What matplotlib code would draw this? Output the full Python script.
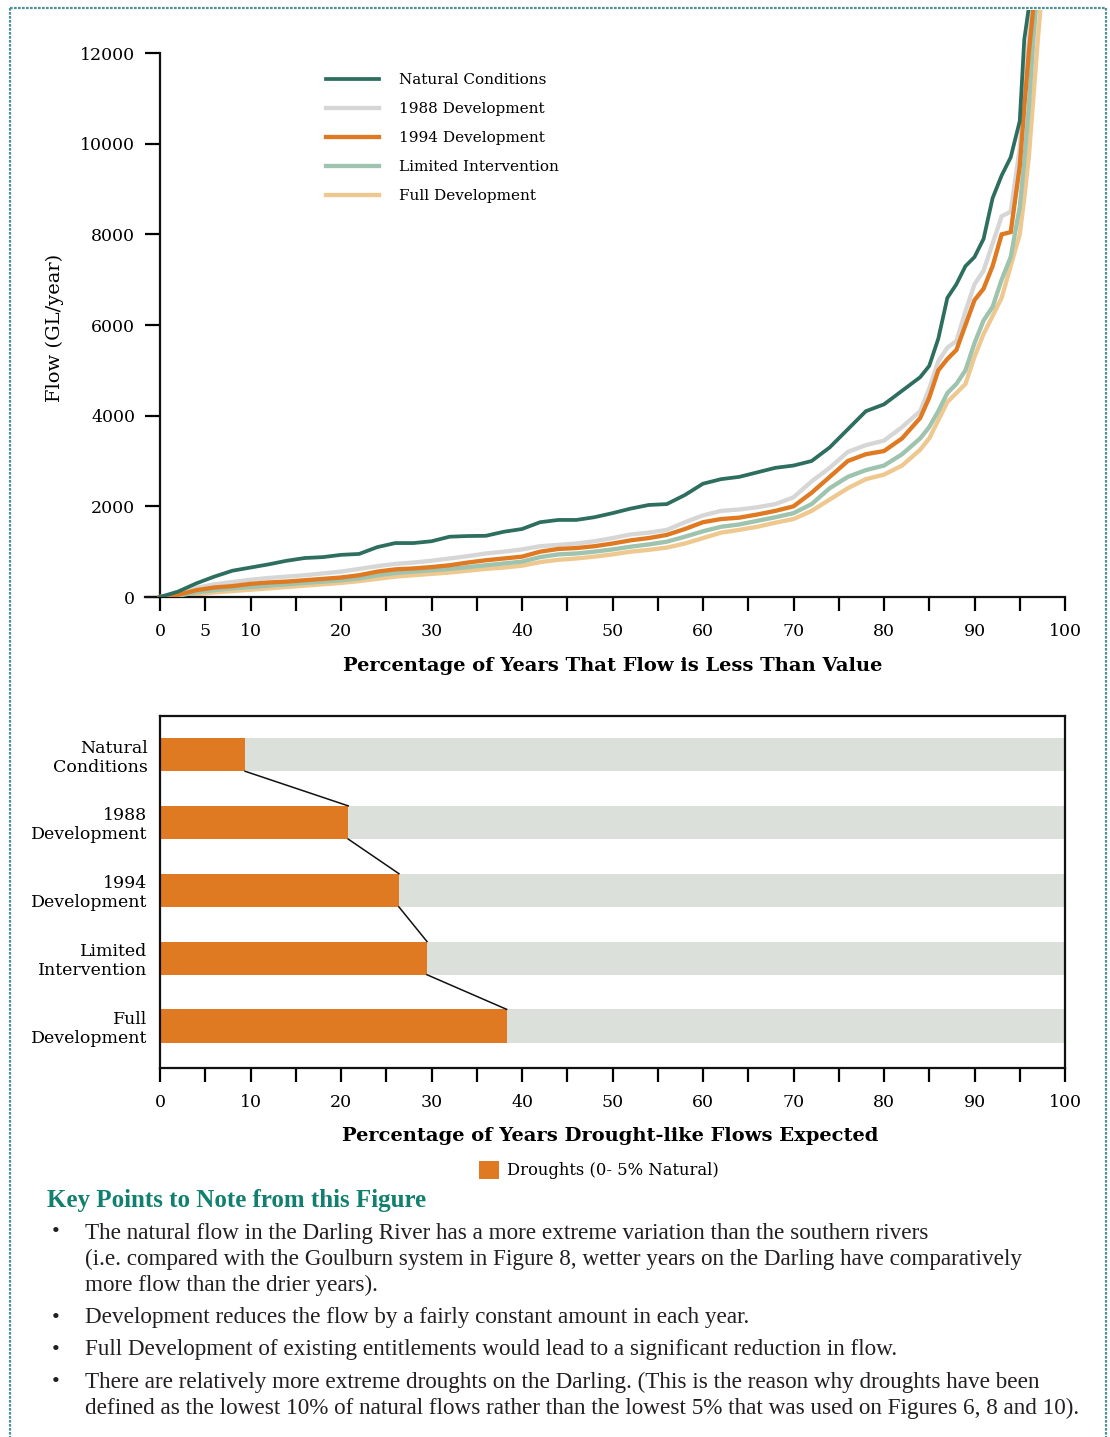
import matplotlib
matplotlib.use('Agg')
import matplotlib.pyplot as plt
from matplotlib.lines import Line2D
from matplotlib.patches import Patch

W, H = 1110, 1437
DPI = 100

# ---------------- data ----------------
pct = [0, 2, 4, 6, 8, 10, 12, 14, 16, 18, 20, 22, 24, 26, 28, 30, 32, 34, 36, 38,
       40, 42, 44, 46, 48, 50, 52, 54, 56, 58, 60, 62, 64, 66, 68, 70, 72, 74, 76, 78,
       80, 82, 84, 85, 86, 87, 88, 89, 90, 91, 92, 93, 94, 95, 95.5, 96, 96.5, 97, 97.5]

natural = [0, 120, 300, 450, 580, 650, 720, 800, 860, 880, 930, 950, 1100, 1190, 1190, 1230, 1330, 1345, 1350, 1440,
           1500, 1650, 1700, 1700, 1760, 1850, 1950, 2030, 2050, 2250, 2500, 2600, 2650, 2750, 2850, 2900, 3000, 3300, 3700, 4100,
           4250, 4550, 4850, 5100, 5700, 6600, 6900, 7300, 7500, 7900, 8800, 9300, 9700, 10500, 12300, 13000, 13800, 14500, 15000]

dev1988 = [0, 80, 200, 280, 330, 380, 420, 450, 480, 520, 560, 620, 680, 730, 760, 800, 850, 900, 960, 1000,
           1050, 1120, 1150, 1180, 1230, 1300, 1380, 1420, 1480, 1650, 1800, 1900, 1930, 1980, 2050, 2200, 2550, 2850, 3200, 3350,
           3450, 3750, 4100, 4600, 5200, 5500, 5650, 6300, 6900, 7200, 7800, 8400, 8500, 9900, 11200, 12300, 13300, 14200, 15000]

dev1994 = [0, 50, 150, 210, 240, 290, 320, 340, 370, 400, 430, 480, 560, 610, 630, 660, 700, 760, 810, 850,
           890, 1000, 1060, 1080, 1120, 1180, 1250, 1300, 1370, 1500, 1650, 1720, 1750, 1820, 1900, 2000, 2300, 2650, 3000, 3150,
           3220, 3500, 3950, 4400, 5000, 5250, 5450, 6000, 6550, 6800, 7300, 8000, 8050, 9500, 10800, 12000, 13000, 14000, 15000]

limited = [0, 30, 100, 150, 190, 220, 250, 280, 310, 340, 370, 410, 480, 530, 560, 590, 620, 660, 700, 740,
           780, 880, 940, 960, 1000, 1050, 1110, 1160, 1220, 1330, 1450, 1550, 1600, 1680, 1760, 1850, 2050, 2400, 2650, 2800,
           2900, 3150, 3500, 3750, 4100, 4500, 4700, 5000, 5600, 6100, 6400, 7000, 7500, 8600, 9600, 10800, 12300, 13500, 14500]

full = [0, 20, 60, 100, 130, 160, 190, 220, 250, 280, 310, 350, 400, 450, 480, 510, 540, 580, 620, 650,
        690, 770, 820, 850, 890, 940, 1000, 1040, 1090, 1180, 1300, 1420, 1480, 1550, 1640, 1720, 1900, 2150, 2400, 2600,
        2700, 2900, 3250, 3500, 3900, 4300, 4500, 4700, 5300, 5800, 6200, 6600, 7300, 8000, 8800, 9700, 11000, 12300, 13500]

series_names = ['Natural Conditions', '1988 Development', '1994 Development',
                'Limited Intervention', 'Full Development']
series_values = [natural, dev1988, dev1994, limited, full]
series_colors = ['#2d6e5f', '#d6d6d6', '#e07a22', '#9ec3ae', '#efc88f']

y_ticks = [0, 2000, 4000, 6000, 8000, 10000, 12000]
x_tick_labels_shown = [0, 5, 10, 20, 30, 40, 50, 60, 70, 80, 90, 100]

bar_labels = ['Natural\nConditions', '1988\nDevelopment', '1994\nDevelopment',
              'Limited\nIntervention', 'Full\nDevelopment']
drought_pct = [9.4, 20.8, 26.4, 29.5, 38.3]
bar_color = '#e07a22'
rest_color = '#dbe0da'

bullets = [
    ["The natural flow in the Darling River has a more extreme variation than the southern rivers",
     "(i.e. compared with the Goulburn system in Figure 8, wetter years on the Darling have comparatively",
     "more flow than the drier years)."],
    ["Development reduces the flow by a fairly constant amount in each year."],
    ["Full Development of existing entitlements would lead to a significant reduction in flow."],
    ["There are relatively more extreme droughts on the Darling. (This is the reason why droughts have been",
     "defined as the lowest 10% of natural flows rather than the lowest 5% that was used on Figures 6, 8 and 10)."],
]

# ---------------- figure ----------------
fig = plt.figure(figsize=(W / DPI, H / DPI), dpi=DPI)
fig.patch.set_facecolor('white')


def fx(px):
    return px / W


def fy(py):
    return 1 - py / H


CF = 'DejaVu Serif'
BF = 'Liberation Serif'

# ---- top line chart ----
AX_L, AX_R, AX_T, AX_B = 145, 1065, 10, 597
ax = fig.add_axes([fx(AX_L), fy(AX_B), fx(AX_R) - fx(AX_L), fy(AX_T) - fy(AX_B)])
ax.set_xlim(-1.66, 100)
ax.set_ylim(0, 12950)

order = [4, 3, 1, 2, 0]
lines = {}
for i in order:
    lw = 2.7 if i == 0 else 3.1
    ln, = ax.plot(pct, series_values[i], color=series_colors[i], lw=lw,
                  solid_joinstyle='miter', label=series_names[i], zorder=2 + order.index(i))
    lines[i] = ln

for s in ['top', 'right']:
    ax.spines[s].set_visible(False)
ax.spines['left'].set_position(('data', 0))
ax.spines['left'].set_bounds(0, 12000)
for s in ['left', 'bottom']:
    ax.spines[s].set_linewidth(1.6)
    ax.spines[s].set_color('#111111')

ax.set_yticks(y_ticks)
ax.set_yticklabels([str(v) for v in y_ticks], fontsize=12.5, family=CF)
xt = list(range(0, 101, 5))
ax.set_xticks(xt)
ax.set_xticklabels([str(v) if v in x_tick_labels_shown else '' for v in xt], fontsize=12.5, family=CF)
ax.tick_params(axis='y', length=11, width=1.6, pad=7, direction='out')
ax.tick_params(axis='x', length=10, width=1.6, pad=9, direction='out')
ax.set_ylabel('Flow (GL/year)', fontsize=14, family=CF)
ax.yaxis.set_label_coords((64 - AX_L) / (AX_R - AX_L), (AX_B - 328) / (AX_B - AX_T))
ax.set_xlabel('Percentage of Years That Flow is Less Than Value', fontsize=14,
              fontweight='bold', family=CF)
ax.xaxis.set_label_coords((613 - AX_L) / (AX_R - AX_L), -(657 - AX_B) / (AX_B - AX_T))

leg = ax.legend(handles=[lines[i] for i in range(5)], loc='upper left',
                bbox_to_anchor=(fx(326), fy(73)), bbox_transform=fig.transFigure,
                frameon=False, handlelength=3.5, handletextpad=1.3,
                labelspacing=0.98, borderpad=0, borderaxespad=0,
                prop={'family': CF, 'size': 11})

# ---- bar chart ----
B_L, B_R, B_T, B_B = 160, 1065, 716, 1068
ax2 = fig.add_axes([fx(B_L), fy(B_B), fx(B_R) - fx(B_L), fy(B_T) - fy(B_B)])
ypos = list(range(len(bar_labels)))
bh = 0.49
ax2.barh(ypos, drought_pct, height=bh, color=bar_color, zorder=2)
ax2.barh(ypos, [100 - d for d in drought_pct], left=drought_pct, height=bh,
         color=rest_color, zorder=2)
for i in range(len(ypos) - 1):
    ax2.plot([drought_pct[i], drought_pct[i + 1]], [ypos[i] + bh / 2, ypos[i + 1] - bh / 2],
             color='#111111', lw=1.1, zorder=3)
ax2.set_xlim(0, 100)
ax2.set_ylim(4.62, -0.57)
ax2.set_yticks(ypos)
ax2.set_yticklabels(bar_labels, fontsize=12.5, family=CF, ha='right', linespacing=1.15)
ax2.tick_params(axis='y', length=0, pad=9)
ax2.set_xticks(xt)
ax2.set_xticklabels([str(v) if v % 10 == 0 else '' for v in xt], fontsize=12.5, family=CF)
ax2.tick_params(axis='x', length=10, width=1.6, pad=9, direction='out')
for s in ax2.spines.values():
    s.set_linewidth(1.6)
    s.set_color('#111111')
ax2.set_xlabel('Percentage of Years Drought-like Flows Expected', fontsize=14,
               fontweight='bold', family=CF)
ax2.xaxis.set_label_coords((610 - B_L) / (B_R - B_L), -(1127 - B_B) / (B_B - B_T))
ax2.legend(handles=[Patch(facecolor=bar_color, edgecolor='none', label='Droughts (0- 5% Natural)')],
           loc='center', bbox_to_anchor=(fx(599), fy(1170)), bbox_transform=fig.transFigure,
           frameon=False, handlelength=1.25, handleheight=1.4, handletextpad=0.5,
           borderpad=0, prop={'family': CF, 'size': 11.8})

# ---- key points text ----
fig.text(fx(47), fy(1200), 'Key Points to Note from this Figure', fontsize=18,
         fontweight='bold', color='#12806f', family=BF, va='center', ha='left')
ypx = [[1233, 1259, 1285], [1318], [1350], [1382, 1408]]
for blines, ys in zip(bullets, ypx):
    fig.text(fx(52), fy(ys[0]), '\u2022', fontsize=16, color='#231f20', family=BF,
             va='center', ha='left')
    for t, yy in zip(blines, ys):
        fig.text(fx(85), fy(yy), t, fontsize=16.7, color='#231f20', family=BF,
                 va='center', ha='left')

# ---- page border ----
bcol = '#4f9196'
for xs, ys in [([fx(10), fx(10)], [fy(8), 0]),
               ([fx(10), fx(1106)], [fy(8), fy(8)]),
               ([fx(1106), fx(1106)], [fy(8), 0])]:
    fig.add_artist(Line2D(xs, ys, color=bcol, lw=1.6, linestyle=(0, (1.2, 0.6))))

fig.savefig('out.png', dpi=DPI)
